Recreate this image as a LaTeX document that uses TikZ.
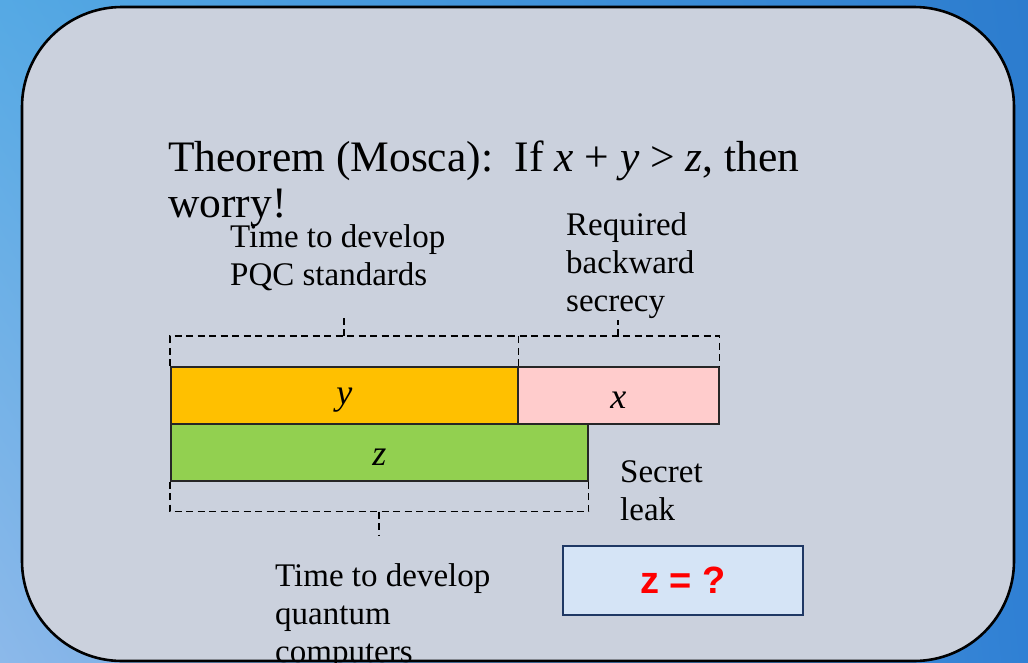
\documentclass[tikz,border=0pt]{standalone}
\usepackage{fontspec}
\setmainfont{Liberation Serif}
\newfontfamily\boxfont{Liberation Sans}
\usetikzlibrary{shadings}
\definecolor{bgUL}{HTML}{55A9E4}
\definecolor{bgLL}{HTML}{8CB9EA}
\definecolor{bgUR}{HTML}{2C7CCE}
\definecolor{bgLR}{HTML}{2F80D4}
\definecolor{panel}{HTML}{CBD1DD}
\definecolor{ybarc}{HTML}{FFC000}
\definecolor{xbarc}{HTML}{FFCCCC}
\definecolor{zbarc}{HTML}{92D050}
\definecolor{qfill}{HTML}{D5E4F6}
\definecolor{qline}{HTML}{1F3864}
\definecolor{qred}{HTML}{FF0000}
\tikzset{
  bar/.style={draw=black!85, line width=1.6pt, inner sep=0pt, anchor=north west, minimum height=57pt, font=\fontsize{36}{38}\selectfont\itshape},
  barlabel/.style={yshift=-5pt},
  dline/.style={line width=1.7pt, dash pattern=on 7pt off 4.5pt},
  label/.style={inner sep=0pt, anchor=north west, align=left, font=\fontsize{33}{38}\selectfont},
}
\begin{document}
\begin{tikzpicture}[x=1pt,y=-1pt]
\useasboundingbox (0,0) rectangle (1028,662);
\shade[upper left=bgUL, upper right=bgUR, lower left=bgLL, lower right=bgLR] (0,0) rectangle (1028,662);
\draw[line width=2.6pt, fill=panel, rounded corners=100pt] (22,7) rectangle (1014,661);

\node[inner sep=0pt, anchor=north west, align=left, font=\fontsize{43.5}{46}\selectfont] (title) at (168,141)
  {Theorem (Mosca):\ \ If \textit{x} + \textit{y} > \textit{z}, then\\worry!};

\node[bar, fill=ybarc, minimum width=347pt] (ybar) at (170,366) {};
\node[bar, fill=xbarc, minimum width=201pt] (xbar) at (517,366) {};
\node[bar, fill=zbarc, minimum width=417pt] (zbar) at (170,423) {};
\node[barlabel, font=\fontsize{36}{38}\selectfont\itshape] (ylab) at (ybar.center) {y};
\node[barlabel, font=\fontsize{36}{38}\selectfont\itshape] (xlab) at (xbar.center) {x};
\node[barlabel, font=\fontsize{36}{38}\selectfont\itshape] (zlab) at (zbar.center) {z};

\node[label] (pqc) at (230,224) {Time to develop\\PQC standards};
\node[label] (req) at (566,212) {Required\\backward\\secrecy};
\node[label] (leak) at (620,460) {Secret\\leak};
\node[label] (qc) at (275,563) {Time to develop\\quantum\\computers};

\node[draw=qline, line width=2pt, fill=qfill, minimum width=240pt, minimum height=69pt, anchor=north west,
  font=\boxfont\bfseries\fontsize{38}{40}\selectfont, text=qred] (q) at (562,545) {z = ?};

% brackets
\draw[dline] (ybar.north west) -- ++(0,-30) -| (xbar.north east);
\draw[dline] (ybar.north east) -- ++(0,-30);
\draw[dline] (ybar.north) ++(0,-30) -- ++(0,-18);
\draw[dline] (xbar.north) ++(0,-30) -- ++(0,-16);
\draw[dline] (zbar.south west) -- ++(0,30) -| (zbar.south east);
\draw[dline] (zbar.south) ++(0,30) -- ++(0,24);
\end{tikzpicture}
\end{document}
